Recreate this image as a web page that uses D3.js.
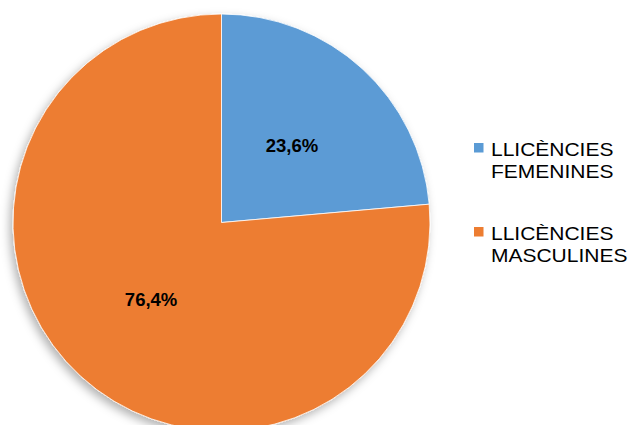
<!DOCTYPE html>
<html>
<head>
<meta charset="utf-8">
<script src="https://cdn.jsdelivr.net/npm/d3@7"></script>
<style>
  body { margin: 0; background: #fff; }
  svg { display: block; }
</style>
</head>
<body>
<svg id="chart"></svg>
<script>
const width = 631;
const height = 425;

// --- DATA ---
const categories = ["LLICÈNCIES FEMENINES", "LLICÈNCIES MASCULINES"];
const legendLines = [["LLICÈNCIES", "FEMENINES"], ["LLICÈNCIES", "MASCULINES"]];
const shares = [23.6, 76.4];
const colors = ["#5B9BD5", "#ED7D31"];

const svg = d3.select("#chart").attr("width", width).attr("height", height);

// soft shadow under the pie
const defs = svg.append("defs");
const f = defs.append("filter").attr("id", "shadow")
    .attr("x", "-20%").attr("y", "-20%").attr("width", "140%").attr("height", "140%");
f.append("feDropShadow").attr("dx", -3).attr("dy", 4).attr("stdDeviation", 5)
    .attr("flood-color", "#000").attr("flood-opacity", 0.3);

// --- PIE ---
const cx = 221.5, cy = 222.5, r = 208.5;
const pie = d3.pie().sort(null).value(d => d);
const arc = d3.arc().innerRadius(0).outerRadius(r);
const labelArc = d3.arc().innerRadius(r * 0.5).outerRadius(r * 0.5);
const arcs = pie(shares);

const g = svg.append("g").attr("transform", `translate(${cx},${cy})`);
g.append("g").attr("filter", "url(#shadow)")
  .selectAll("path").data(arcs).join("path")
    .attr("d", arc)
    .attr("fill", (d, i) => colors[i])
    .attr("stroke", "#fff").attr("stroke-width", 0.8);

g.selectAll("text.lbl").data(arcs).join("text")
    .attr("class", "lbl")
    .attr("transform", d => `translate(${labelArc.centroid(d)})`)
    .attr("text-anchor", "middle").attr("dy", "0.36em")
    .style("font-family", "Liberation Sans, Arial, sans-serif")
    .style("font-size", "18.5px").style("font-weight", "bold")
    .attr("fill", "#000")
    .text(d => d3.format(".1f")(d.data).replace(".", ",") + "%");

// --- LEGEND ---
const legend = svg.append("g").attr("transform", "translate(474,143)");
const item = legend.selectAll("g").data(categories).join("g")
    .attr("transform", (d, i) => `translate(0,${i * 84})`);
item.append("rect").attr("width", 9.5).attr("height", 9.5)
    .attr("fill", (d, i) => colors[i]);
// text in the reference is stretched horizontally
item.append("text")
    .attr("transform", "translate(17,12.5) scale(1.2,1)")
    .style("font-family", "Liberation Sans, Arial, sans-serif")
    .style("font-size", "17.5px")
    .attr("fill", "#000")
    .selectAll("tspan").data((d, i) => legendLines[i]).join("tspan")
    .attr("x", 0).attr("dy", (d, j) => j === 0 ? 0 : 22.8)
    .text(d => d);
</script>
</body>
</html>
